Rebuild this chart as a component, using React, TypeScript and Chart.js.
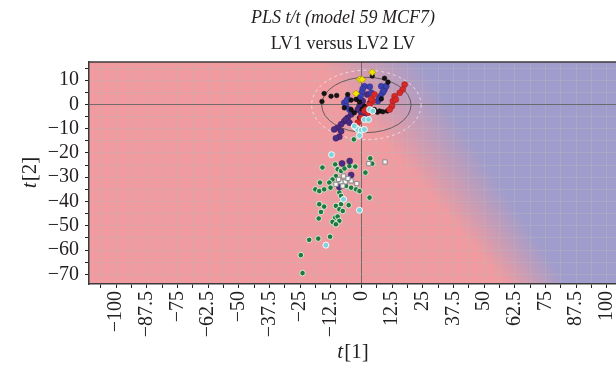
import React, { useEffect, useRef } from 'react';
import { Chart, registerables } from 'chart.js';

Chart.register(...registerables);

// ---- text ----
const TITLE = 'PLS t/t (model 59 MCF7)';
const SUBTITLE = 'LV1 versus LV2 LV';

// ---- axes ----
const X_TICKS = [-100, -87.5, -75, -62.5, -50, -37.5, -25, -12.5, 0, 12.5, 25, 37.5, 50, 62.5, 75, 87.5, 100];
const Y_TICKS = [-70, -60, -50, -40, -30, -20, -10, 0, 10];
const X_RANGE = [-111, 103.7];
const Y_RANGE = [-74, 17.5];

// ---- class boundary (data units): [x at top, x at bottom] ----
const BOUNDARY_X = [3, 71];
const BOUNDARY_Y = [17.5, -74];

// ---- confidence ellipses: [cx, cy, ax, ay] ----
const ELLIPSE_SOLID = [2, -0.2, 18.2, 11.4];
const ELLIPSE_DASHED = [2, -0.2, 22.3, 14.3];

// ---- scores ----
const YELLOW = [[4.4, 13.3], [-0.7, 10.3], [0.3, 10.3], [-2.2, 4.5]];
const BLACK = [[4.4, 11.7], [9.4, 10.8], [10.8, 9.2], [-15.2, 4.5], [-12.4, 3.4], [-10.1, 3.7], [-16.1, 1.2],
  [-5.6, 4.1], [-4.2, 1.8], [-2.2, 2.1], [-0.8, 1.0], [1.2, -0.7], [3.3, 0.7], [5.3, -2.1], [7.4, -2.7],
  [8.7, -3.0], [10.5, -2.7], [8.1, 2.3], [-7.0, -1.4], [-4.2, -2.1], [-2.9, -3.4], [-0.8, -5.5], [6.5, -3.2],
  [2.5, -1.5], [0.3, -2.0]];
const BLUE = [[3.4, 7.3], [8.1, 7.5], [9.4, 6.2], [8.6, 4.8], [7.7, 3.4], [6.7, 1.4], [10.1, 7.5], [1.2, 7.5],
  [0.5, 6.4], [0.1, 4.8], [-0.4, 3.4], [-1.2, 2.3], [-5.6, 2.3], [-7.0, 0.7], [-6.3, -0.7], [-4.9, -2.1],
  [4.0, 4.8], [9.0, 5.5], [7.2, 2.4], [-6.0, 1.5]];
const PURPLE = [[2.3, 4.1], [0.5, 1.4], [-0.8, -0.7], [-1.5, -2.1], [-0.1, -3.4], [1.2, -4.1], [-4.2, -4.1],
  [-5.6, -5.5], [-7.0, -6.9], [-8.3, -8.2], [-9.7, -9.6], [-11.1, -10.3], [-9.0, -13.3], [-10.4, -13.9],
  [-8.3, -11.0], [-6.3, -6.2], [-4.9, -7.5], [-7.9, -24.3], [-4.8, -23.3], [-4.2, -29.1], [-9.0, -34.0]];
const RED = [[17.6, 8.2], [16.8, 6.2], [15.6, 4.8], [13.5, 3.4], [12.8, 1.4], [12.4, -0.7], [11.5, -2.1],
  [5.3, 4.1], [4.6, 1.4], [3.3, 0], [1.9, -2.1], [1.2, -2.7], [-0.1, -5.5], [-1.5, -7.5], [-2.2, -9.6],
  [4.0, 2.1], [2.6, -3.4], [14.0, 2.0]];
const CYAN = [[3.3, -2.1], [4.6, -2.7], [1.2, -6.2], [2.9, -6.2], [-2.2, -9.6], [-1.5, -10.3], [-0.1, -10.6],
  [1.2, -10.3], [-0.8, -12.8], [-2.9, -8.9], [-12.2, -20.7], [-7.3, -39.1], [-0.8, -43.6], [-14.5, -58.0]];
const GREEN = [[-3.1, -14.4], [-15.9, -26.0], [-10.7, -24.7], [-9.7, -26.7], [-8.3, -27.4], [-6.9, -26.4],
  [-4.9, -25.4], [-2.5, -25.6], [1.6, -28.1], [3.6, -22.2], [4.4, -24.4], [-10.4, -29.5], [-11.8, -30.9],
  [-13.1, -32.2], [-16.9, -32.2], [-18.8, -35.0], [-17.2, -35.7], [-15.2, -35.0], [-12.6, -34.3],
  [-10.4, -32.9], [-8.3, -32.2], [-6.3, -33.6], [-4.2, -34.3], [-2.2, -35.0], [-0.8, -35.7], [-9.0, -36.3],
  [-8.3, -37.7], [3.3, -38.4], [-17.2, -41.1], [-15.2, -42.1], [-10.4, -41.8], [-8.3, -41.1], [-5.2, -41.5],
  [-16.5, -44.3], [-9.0, -43.2], [-7.6, -43.9], [-10.7, -46.6], [-9.7, -46.2], [-9.0, -48.0], [-11.8, -48.4],
  [-10.4, -49.4], [-17.4, -47.0], [-21.3, -55.8], [-17.6, -55.3], [-12.8, -54.5], [-24.7, -62.1], [-24.0, -69.5]];
const WHITE = [[3.0, -24.4], [9.6, -23.7], [-7.3, -29.5], [-4.2, -31.5], [-1.9, -32.6], [-10.4, -32.9],
  [-8.3, -31.9], [-6.6, -31.9], [-9.3, -30.9], [-7.6, -33.6], [-5.5, -30.5]];

// ---- styles ----
const PINK = 'rgb(239,155,160)';
const LAVENDER = 'rgb(160,157,204)';
const FONT = '"Liberation Serif", "Times New Roman", serif';
const TEXT = '#231f20';
const TICK_SIZE = 20;
const AXIS_TITLE_SIZE = 21;
const TITLE_SIZE = 18;

const toXY = (arr: number[][]) => arr.map(([x, y]) => ({ x, y }));
const fmt = (n: number) => (n < 0 ? '\u2212' + Math.abs(n) : String(n));

const minorTicks = (major: number[], lo: number, hi: number) => {
  const step = (major[1] - major[0]) / 2;
  const out: number[] = [];
  for (let v = major[0] - step * 4; v <= major[major.length - 1] + step * 4 + 1e-9; v += step) {
    if (v >= lo - 1e-9 && v <= hi + 1e-9) out.push(Math.round(v * 1000) / 1000);
  }
  return out;
};

const bgPlugin = {
  id: 'bgPlugin',
  beforeDraw(chart: any) {
    const { ctx, chartArea: a, scales } = chart;
    const xs = scales.x, ys = scales.y;
    ctx.save();
    for (let py = Math.floor(a.top); py < Math.ceil(a.bottom); py++) {
      const vy = ys.getValueForPixel(py + 0.5);
      const t = (vy - BOUNDARY_Y[0]) / (BOUNDARY_Y[1] - BOUNDARY_Y[0]);
      const bx = BOUNDARY_X[0] + t * (BOUNDARY_X[1] - BOUNDARY_X[0]);
      const px = xs.getPixelForValue(bx);
      const w = 100 + t * (60 - 100);
      const g = ctx.createLinearGradient(px - w / 2, 0, px + w / 2, 0);
      g.addColorStop(0, PINK);
      g.addColorStop(1, LAVENDER);
      ctx.fillStyle = g;
      ctx.fillRect(a.left, py, a.right - a.left, 1);
    }
    ctx.restore();
  },
  beforeDatasetsDraw(chart: any) {
    const { ctx, chartArea: a, scales } = chart;
    const xs = scales.x, ys = scales.y;
    const drawEl = (e: number[], color: string, dash: number[], lw: number) => {
      const cx = xs.getPixelForValue(e[0]);
      const cy = ys.getPixelForValue(e[1]);
      const rx = Math.abs(xs.getPixelForValue(e[0] + e[2]) - cx);
      const ry = Math.abs(ys.getPixelForValue(e[1] + e[3]) - cy);
      ctx.beginPath();
      ctx.setLineDash(dash);
      ctx.strokeStyle = color;
      ctx.lineWidth = lw;
      ctx.ellipse(cx, cy, rx, ry, 0, 0, Math.PI * 2);
      ctx.stroke();
    };
    ctx.save();
    ctx.beginPath();
    ctx.rect(a.left, a.top, a.right - a.left, a.bottom - a.top);
    ctx.clip();
    drawEl(ELLIPSE_DASHED, 'rgba(255,255,255,0.6)', [3, 3], 1);
    drawEl(ELLIPSE_SOLID, 'rgba(80,80,80,0.85)', [], 1);
    ctx.restore();
  },
  afterDraw(chart: any) {
    const { ctx, chartArea: a } = chart;
    ctx.save();
    ctx.strokeStyle = '#3a3a3a';
    ctx.lineWidth = 1.5;
    ctx.beginPath();
    ctx.moveTo(a.left, a.top);
    ctx.lineTo(a.right, a.top);
    ctx.stroke();
    ctx.fillStyle = TEXT;
    ctx.textAlign = 'center';
    ctx.textBaseline = 'middle';
    ctx.font = 'italic ' + TITLE_SIZE + 'px ' + FONT;
    ctx.fillText(TITLE, 343, 18);
    ctx.font = TITLE_SIZE + 'px ' + FONT;
    ctx.fillText(SUBTITLE, 343, 44);
    const drawAxisTitle = (sub: string, cx: number, cy: number, rot: number) => {
      ctx.save();
      ctx.translate(cx, cy);
      ctx.rotate(rot);
      ctx.textAlign = 'left';
      ctx.textBaseline = 'middle';
      ctx.font = 'italic ' + AXIS_TITLE_SIZE + 'px ' + FONT;
      const w1 = ctx.measureText('t').width;
      ctx.font = AXIS_TITLE_SIZE + 'px ' + FONT;
      const w2 = ctx.measureText(sub).width;
      const x0 = -(w1 + w2) / 2;
      ctx.font = 'italic ' + AXIS_TITLE_SIZE + 'px ' + FONT;
      ctx.fillText('t', x0, 0);
      ctx.font = AXIS_TITLE_SIZE + 'px ' + FONT;
      ctx.fillText(sub, x0 + w1 + 1, 0);
      ctx.restore();
    };
    drawAxisTitle('[1]', (a.left + a.right) / 2, 352, 0);
    drawAxisTitle('[2]', 30, (a.top + a.bottom) / 2, -Math.PI / 2);
    ctx.restore();
  },
};

export default function App() {
  const ref = useRef<HTMLCanvasElement>(null);
  useEffect(() => {
    const sc = (data: number[][], bg: string, border: string, r: number, style: string, bw = 0.8) => ({
      data: toXY(data),
      backgroundColor: bg,
      borderColor: border,
      borderWidth: bw,
      pointRadius: r,
      pointStyle: style,
    });
    const gridColor = (c: any) =>
      c.tick && c.tick.value === 0 ? 'rgba(100,100,100,0.9)' : 'rgba(185,185,185,0.35)';
    const chart = new Chart(ref.current as HTMLCanvasElement, {
      type: 'scatter',
      data: {
        datasets: [
          sc(YELLOW, '#f2e200', '#a89a00', 3.5, 'rectRot'),
          sc(WHITE, '#f6f6f6', '#8a8a8a', 3, 'rect', 1),
          sc(CYAN, '#7fd4dc', 'rgba(255,255,255,0.9)', 3, 'circle', 1),
          sc(RED, '#d62a2a', '#a01818', 3, 'circle', 0.5),
          sc(BLACK, '#141414', '#000', 2.3, 'circle', 0.5),
          sc(BLUE, '#3c40ad', '#2a2d85', 3, 'circle', 0.5),
          sc(PURPLE, '#4b2b80', '#321a5c', 3, 'circle', 0.5),
          sc(GREEN, '#1f7a3c', 'rgba(235,245,235,0.85)', 2.8, 'circle', 1),
        ],
      },
      options: {
        responsive: false,
        animation: false,
        devicePixelRatio: 1,
        events: [],
        layout: { autoPadding: false, padding: { top: 62, left: 0, right: 0, bottom: 0 } },
        plugins: {
          legend: { display: false },
          tooltip: { enabled: false },
          title: { display: false },
        },
        scales: {
          x: {
            type: 'linear',
            min: X_RANGE[0],
            max: X_RANGE[1],
            afterBuildTicks: (s: any) => {
              s.ticks = minorTicks(X_TICKS, X_RANGE[0], X_RANGE[1]).map((v) => ({ value: v }));
            },
            afterFit: (s: any) => {
              s.height = 93;
              s.paddingLeft = 0;
              s.paddingRight = 0;
            },
            ticks: {
              autoSkip: false,
              minRotation: 90,
              maxRotation: 90,
              padding: 3,
              color: TEXT,
              font: { family: FONT, size: TICK_SIZE },
              callback: (v: any) => (X_TICKS.includes(Number(v)) ? fmt(Number(v)) : ''),
            },
            grid: { color: gridColor, tickColor: '#222', tickLength: 4, lineWidth: 1 },
            border: { display: true, color: '#3a3a3a', width: 1.5 },
          },
          y: {
            type: 'linear',
            min: Y_RANGE[0],
            max: Y_RANGE[1],
            afterBuildTicks: (s: any) => {
              s.ticks = minorTicks(Y_TICKS, Y_RANGE[0], Y_RANGE[1]).map((v) => ({ value: v }));
            },
            afterFit: (s: any) => {
              s.width = 89;
              s.paddingTop = 0;
              s.paddingBottom = 0;
            },
            ticks: {
              autoSkip: false,
              padding: 6,
              color: TEXT,
              font: { family: FONT, size: TICK_SIZE },
              callback: (v: any) => (Y_TICKS.includes(Number(v)) ? fmt(Number(v)) : ''),
            },
            grid: { color: gridColor, tickColor: '#222', tickLength: 4, lineWidth: 1 },
            border: { display: true, color: '#3a3a3a', width: 1.5 },
          },
        },
      },
      plugins: [bgPlugin],
    } as any);
    return () => chart.destroy();
  }, []);
  return (
    <canvas
      ref={ref}
      width={616}
      height={377}
      style={{ position: 'absolute', left: 0, top: 0, display: 'block', background: '#fff' }}
    />
  );
}
